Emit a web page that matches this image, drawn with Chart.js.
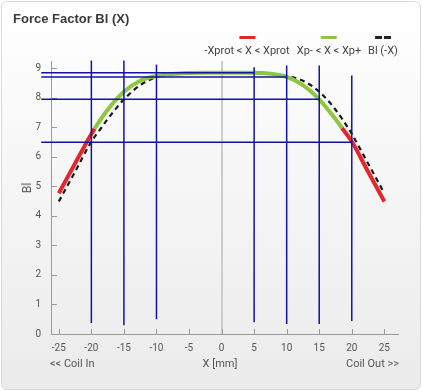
<!DOCTYPE html>
<html>
<head>
<meta charset="utf-8">
<script src="https://cdn.jsdelivr.net/npm/chart.js@4/dist/chart.umd.min.js"></script>
<style>
  html, body { margin: 0; padding: 0; background: #fff; }
  #card {
    position: absolute; left: 1px; top: 1px; width: 418px; height: 387px;
    border: 1px solid #d9d9d9; border-radius: 6px;
    background: linear-gradient(#ffffff, #ebebeb);
    font-family: Roboto, "Liberation Sans", sans-serif; color: #555;
  }
  #chart { position: absolute; left: 0; top: 0; }
  .title { position: absolute; left: 11px; top: 9px; font: bold 13px "Liberation Sans", Arial, sans-serif; color: #3a3a3a; }
  .lbl { position: absolute; font-size: 11px; white-space: nowrap; color: #555; }
  .leg { position: absolute; top: 34px; transform: translateX(-50%); text-align: center; font-size: 11px; color: #444; white-space: nowrap; }
  .sw { width: 16px; height: 3px; margin: 0 auto 5px auto; }
</style>
</head>
<body>
<div id="card">
  <canvas id="chart" width="420" height="389"></canvas>
  <div class="title">Force Factor Bl (X)</div>
  <div class="leg" style="left:245px"><div class="sw" style="background:#e3262d"></div>-Xprot &lt; X &lt; Xprot</div>
  <div class="leg" style="left:327px"><div class="sw" style="background:#8dc63f"></div>Xp- &lt; X &lt; Xp+</div>
  <div class="leg" style="left:381px"><div class="sw" style="background:repeating-linear-gradient(90deg,#222 0 7px,transparent 7px 9px)"></div>Bl (-X)</div>
  <div class="lbl" style="left:25px; top:186px; font-size:12px; transform:translate(-50%,-50%) rotate(-90deg)">Bl</div>
  <div class="lbl" style="left:48px; top:355px">&lt;&lt; Coil In</div>
  <div class="lbl" style="left:218px; top:355px; transform:translateX(-50%)">X [mm]</div>
  <div class="lbl" style="right:21px; top:355px">Coil Out &gt;&gt;</div>
</div>
<script>
// force factor Bl(X)
const blX = [-25, -22.5, -20, -19.5, -17.5, -15, -12.5, -10, -7.5, -5, -2.5, 0, 2.5, 5, 7.5, 10, 12.5, 15, 17.5, 18.5, 20, 22.5, 25];
const blY = [4.77, 5.78, 6.78, 6.96, 7.6, 8.21, 8.58, 8.74, 8.81, 8.84, 8.85, 8.85, 8.85, 8.85, 8.82, 8.71, 8.43, 7.95, 7.28, 6.98, 6.52, 5.5, 4.49];
// limits of the green (Xp- .. Xp+) part
const xpMinus = -19.5;
const xpPlus = 18.5;

// blue marker lines
const vLineX = [-20, -15, -10, 5, 10, 15, 20];
const vLineTop = [9.27, 9.27, 9.13, 9.04, 9.1, 9.1, 8.76];
const vLineBottom = [0.37, 0.3, 0.5, 0.4, 0.34, 0.34, 0.44];
const hLineY = [8.85, 8.71, 7.95, 6.5];
const hLineEnd = [5, 10, 15, 20];
const hLineStart = -27.7;

const xTicks = [-25, -20, -15, -10, -5, 0, 5, 10, 15, 20, 25];
const yTicks = [0, 1, 2, 3, 4, 5, 6, 7, 8, 9];

const RED = '#e3262d', GREEN = '#8dc63f', BLUE = '#1212a6';

const solid = blX.map((x, i) => ({ x: x, y: blY[i] }));
const mirrored = blX.map((x, i) => ({ x: -x, y: blY[i] })).reverse();

const lines = [];
vLineX.forEach((x, i) => {
    lines.push({ data: [{ x: x, y: vLineBottom[i] }, { x: x, y: vLineTop[i] }] });
});
hLineY.forEach((y, i) => {
    lines.push({ data: [{ x: hLineStart, y: y }, { x: hLineEnd[i], y: y }] });
});
lines.forEach(d => {
    d.borderColor = BLUE;
    d.borderWidth = 1.5;
    d.pointRadius = 0;
    d.clip = false;
    d.order = 0;
});

const innerTicks = {
    id: 'innerTicks',
    beforeDatasetsDraw(chart) {
        const { ctx, chartArea: a, scales: { x, y } } = chart;
        ctx.save();
        const x0 = Math.round(x.getPixelForValue(0));
        ctx.strokeStyle = '#cccccc';
        ctx.lineWidth = 2;
        ctx.beginPath();
        ctx.moveTo(x0, a.top);
        ctx.lineTo(x0, a.bottom);
        ctx.stroke();
        ctx.strokeStyle = '#9a9a9a';
        ctx.lineWidth = 1;
        ctx.beginPath();
        x.ticks.forEach(t => {
            const px = Math.round(x.getPixelForValue(t.value)) + 0.5;
            ctx.moveTo(px, a.bottom);
            ctx.lineTo(px, a.bottom - 5);
        });
        y.ticks.forEach(t => {
            const py = Math.round(y.getPixelForValue(t.value)) + 0.5;
            ctx.moveTo(a.left, py);
            ctx.lineTo(a.left + 6, py);
        });
        ctx.stroke();
        ctx.restore();
    }
};

new Chart(document.getElementById('chart'), {
    type: 'line',
    data: {
        datasets: [
            ...lines,
            {
                data: solid,
                borderWidth: 4,
                borderColor: GREEN,
                pointRadius: 0,
                cubicInterpolationMode: 'monotone',
                borderCapStyle: 'butt',
                segment: {
                    borderColor: c => (c.p1.parsed.x <= xpMinus || c.p0.parsed.x >= xpPlus) ? RED : GREEN
                },
                order: 1
            },
            {
                data: mirrored,
                borderWidth: 2.2,
                borderColor: '#1a1a1a',
                borderDash: [5, 4],
                pointRadius: 0,
                cubicInterpolationMode: 'monotone',
                order: 2
            }
        ]
    },
    options: {
        responsive: false,
        animation: false,
        devicePixelRatio: 1,
        layout: { padding: { left: 0, right: 24, top: 59, bottom: 0 } },
        plugins: { legend: { display: false }, tooltip: { enabled: false } },
        scales: {
            x: {
                type: 'linear',
                min: -26.2,
                max: 27.1,
                afterBuildTicks: s => { s.ticks = xTicks.map(v => ({ value: v })); },
                afterFit: s => { s.height = 57; },
                grid: { display: false, drawTicks: false },
                border: { display: true, color: '#9a9a9a', width: 1 },
                ticks: { padding: 8, color: '#555', font: { family: 'Roboto', size: 10 }, maxRotation: 0 }
            },
            y: {
                min: 0,
                max: 9.25,
                afterBuildTicks: s => { s.ticks = yTicks.map(v => ({ value: v })); },
                afterFit: s => { s.width = 49; },
                grid: { display: false, drawTicks: false },
                border: { display: true, color: '#9a9a9a', width: 1 },
                ticks: { padding: 10, color: '#555', font: { family: 'Roboto', size: 10 } }
            }
        }
    },
    plugins: [innerTicks]
});
</script>
</body>
</html>
